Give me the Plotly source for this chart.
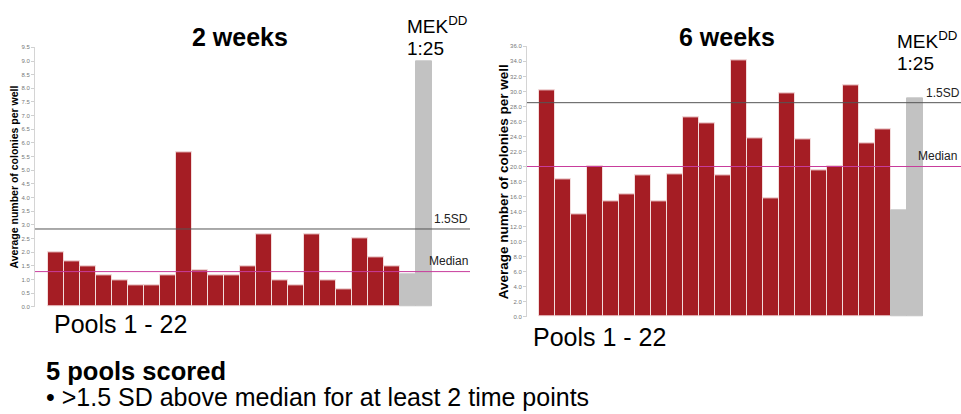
import plotly.graph_objects as go

# ---------------- data ----------------
pools = [f"Pool {i}" for i in range(1, 23)]
controls = ["Control", "MEKDD 1:25"]
categories = pools + controls

weeks2_pools = [2.0, 1.65, 1.48, 1.14, 0.97, 0.80, 0.80, 1.14, 5.65, 1.32, 1.14,
                1.14, 1.48, 2.65, 0.96, 0.80, 2.65, 0.96, 0.64, 2.49, 1.83, 1.48]
weeks2_controls = [1.18, 9.0]
weeks2_sd = 2.85
weeks2_median = 1.29

weeks6_pools = [30.2, 18.3, 13.65, 20.0, 15.3, 16.27, 18.8, 15.3, 18.9, 26.6, 25.7,
                18.8, 34.1, 23.8, 15.75, 29.8, 23.6, 19.5, 20.0, 30.8, 23.1, 25.0]
weeks6_controls = [14.2, 29.1]
weeks6_sd = 28.5
weeks6_median = 20.0

# ---------------- style ----------------
W, H = 961, 414
RED = "#a51d24"
GRAY = "#c2c2c2"
FONT = "Liberation Sans, Arial, sans-serif"


def px(x):
    return x / W


def py(y):
    return 1 - y / H


colors = [RED] * len(pools) + [GRAY] * len(controls)
line_colors = ["#f3dcdc"] * len(pools) + [GRAY] * len(controls)
xidx = list(range(len(categories)))

fig = go.Figure()
fig.add_trace(go.Bar(x=xidx, y=weeks2_pools + weeks2_controls, hovertext=categories,
                     marker=dict(color=colors, line=dict(color=line_colors, width=1)),
                     xaxis="x", yaxis="y", showlegend=False))
fig.add_trace(go.Bar(x=xidx, y=weeks6_pools + weeks6_controls, hovertext=categories,
                     marker=dict(color=colors, line=dict(color=line_colors, width=1)),
                     xaxis="x2", yaxis="y2", showlegend=False))

yax_common = dict(showgrid=False, zeroline=False, showline=True, linecolor="#d4d4d4",
                  linewidth=1, ticks="outside", ticklen=3, tickcolor="#d0d0d0",
                  tickformat=".1f", tickfont=dict(family=FONT, size=6, color="#777"))
xax_common = dict(showgrid=False, zeroline=False, showline=False, showticklabels=False,
                  ticks="")

fig.update_layout(
    width=W, height=H,
    margin=dict(l=0, r=0, t=0, b=0),
    paper_bgcolor="white", plot_bgcolor="white",
    bargap=0,
    font=dict(family=FONT, color="black"),
    xaxis=dict(domain=[px(35), px(470)], range=[-1.3, 25.9], anchor="y", **xax_common),
    yaxis=dict(domain=[py(308.3), py(45)], range=[0, 9.5], dtick=0.5, anchor="x", **yax_common),
    xaxis2=dict(domain=[px(527), 1.0], range=[-1.24, 25.9], anchor="y2", **xax_common),
    yaxis2=dict(domain=[py(318.3), py(44)], range=[0, 36], dtick=2, anchor="x2", **yax_common),
)

# threshold lines
for xref, yref, sd, med in [("x domain", "y", weeks2_sd, weeks2_median),
                            ("x2 domain", "y2", weeks6_sd, weeks6_median)]:
    fig.add_shape(type="line", xref=xref, yref=yref, x0=0, x1=1, y0=sd, y1=sd,
                  line=dict(color="#555555", width=1))
    fig.add_shape(type="line", xref=xref, yref=yref, x0=0, x1=1, y0=med, y1=med,
                  line=dict(color="#c83c9c", width=1))


def ann(text, x, y, size, bold=False, xanchor="left", color="black"):
    if bold:
        text = f"<b>{text}</b>"
    fig.add_annotation(text=text, x=px(x), y=py(y), xref="paper", yref="paper",
                       xanchor=xanchor, yanchor="middle", showarrow=False,
                       font=dict(family=FONT, size=size, color=color))


# titles
ann("2 weeks", 240, 35, 25, bold=True, xanchor="center")
ann("6 weeks", 727, 35, 25, bold=True, xanchor="center")

# MEK labels
ann("MEK<sup>DD</sup>", 405, 22, 19)
ann("1:25", 405, 46, 19)
ann("MEK<sup>DD</sup>", 895, 38, 19)
ann("1:25", 895, 61, 19)

# threshold labels
ann("1.5SD", 470, 219, 12, xanchor="right", color="#222")
ann("Median", 470, 262, 12, xanchor="right", color="#222")
ann("1.5SD", 924, 91, 12, color="#222")
ann("Median", 916, 155, 12, color="#222")

# y-axis titles
fig.add_annotation(text="<b>Average number of colonies per well</b>", x=px(14), y=py(177),
                   xref="paper", yref="paper", textangle=-90, showarrow=False,
                   xanchor="center", yanchor="middle",
                   font=dict(family=FONT, size=10.5, color="black"))
fig.add_annotation(text="<b>Average number of colonies per well</b>", x=px(503), y=py(182),
                   xref="paper", yref="paper", textangle=-90, showarrow=False,
                   xanchor="center", yanchor="middle",
                   font=dict(family=FONT, size=13.5, color="black"))

# pool labels
ann("Pools 1 - 22", 52, 326, 25)
ann("Pools 1 - 22", 531, 339, 25)

# bottom notes
ann("5 pools scored", 44, 373, 25.5, bold=True)
ann("• >1.5 SD above median for at least 2 time points", 44, 400, 25)

fig.write_html("out.html", config={"displayModeBar": False},
               post_script="document.body.style.margin='0';")
